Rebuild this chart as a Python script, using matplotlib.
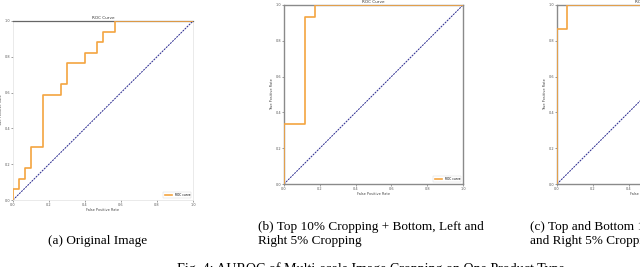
import matplotlib
matplotlib.use("Agg")
import matplotlib.pyplot as plt

# ROC points (false positive rate, true positive rate)
fpr_a = [0.0, 0.0, 0.033, 0.033, 0.067, 0.067, 0.1, 0.1, 0.167, 0.167, 0.267, 0.267,
         0.3, 0.3, 0.4, 0.4, 0.467, 0.467, 0.5, 0.5, 0.567, 0.567, 1.0]
tpr_a = [0.0, 0.059, 0.059, 0.118, 0.118, 0.176, 0.176, 0.294, 0.294, 0.588, 0.588, 0.647,
         0.647, 0.765, 0.765, 0.824, 0.824, 0.882, 0.882, 0.941, 0.941, 1.0, 1.0]

fpr_b = [0.0, 0.0, 0.115, 0.115, 0.172, 0.172, 1.0]
tpr_b = [0.0, 0.333, 0.333, 0.933, 0.933, 1.0, 1.0]

fpr_c = [0.0, 0.0, 0.056, 0.056, 1.0]
tpr_c = [0.0, 0.867, 0.867, 1.0, 1.0]

ticks = [0.0, 0.2, 0.4, 0.6, 0.8, 1.0]
tick_labels = ["0.0", "0.2", "0.4", "0.6", "0.8", "1.0"]

captions = [
    (48, 241, "(a) Original Image"),
    (258, 227, "(b) Top 10% Cropping + Bottom, Left and"),
    (258, 241, "Right 5% Cropping"),
    (530, 227, "(c) Top and Bottom 10% Cropping + Left"),
    (530, 241, "and Right 5% Cropping"),
]
fig_caption = "Fig. 4: AUROC of Multi-scale Image Cropping on One Product Type"

W, H = 640, 267
fig = plt.figure(figsize=(W / 100, H / 100), dpi=100)


def make_axes(left, top, w, h):
    return fig.add_axes([left / W, (H - top - h) / H, w / W, h / H])


def roc_panel(ax, fpr, tpr, spine_color, spine_lw):
    ax.plot(fpr, tpr, color="#f4a440", lw=1.2, label="ROC curve", zorder=3)
    ax.plot([0, 1], [0, 1], color="#2a2a90", lw=0.7, linestyle=(0, (2, 1)), zorder=2)
    ax.set_xlim(0, 1)
    ax.set_ylim(0, 1)
    ax.set_xticks(ticks)
    ax.set_xticklabels(tick_labels)
    ax.set_yticks(ticks)
    ax.set_yticklabels(tick_labels)
    ax.tick_params(labelsize=2.5, length=1.2, width=0.4, pad=1, colors="#555555")
    ax.set_title("ROC Curve", fontsize=3, pad=1.5, color="#333333")
    ax.set_xlabel("False Positive Rate", fontsize=2.5, labelpad=1, color="#444444")
    ax.set_ylabel("True Positive Rate", fontsize=2.5, labelpad=1, color="#444444")
    for s in ax.spines.values():
        s.set_color(spine_color)
        s.set_linewidth(spine_lw)
    leg = ax.legend(loc="lower right", fontsize=2.2, handlelength=2.5,
                    borderpad=0.4, frameon=True, fancybox=False)
    leg.get_frame().set_linewidth(0.3)
    leg.get_frame().set_edgecolor("#cccccc")


ax_a = make_axes(13, 21, 180, 179)
roc_panel(ax_a, fpr_a, tpr_a, "#e2e2e2", 0.5)
ax_a.spines["top"].set_color("#666666")
ax_a.spines["top"].set_linewidth(0.9)

ax_b = make_axes(284, 5, 179, 179)
roc_panel(ax_b, fpr_b, tpr_b, "#8a8a8a", 1.0)

ax_c = make_axes(557, 5, 179, 179)
roc_panel(ax_c, fpr_c, tpr_c, "#8a8a8a", 1.0)

serif = ["Liberation Serif", "DejaVu Serif"]
for x, y, txt in captions:
    fig.text(x / W, 1 - y / H, txt, fontsize=9.5, family=serif, va="center", ha="left")
fig.text(177 / W, 1 - 269 / H, fig_caption, fontsize=10.1, family=serif, va="center", ha="left")

fig.savefig("out.png", dpi=100)
